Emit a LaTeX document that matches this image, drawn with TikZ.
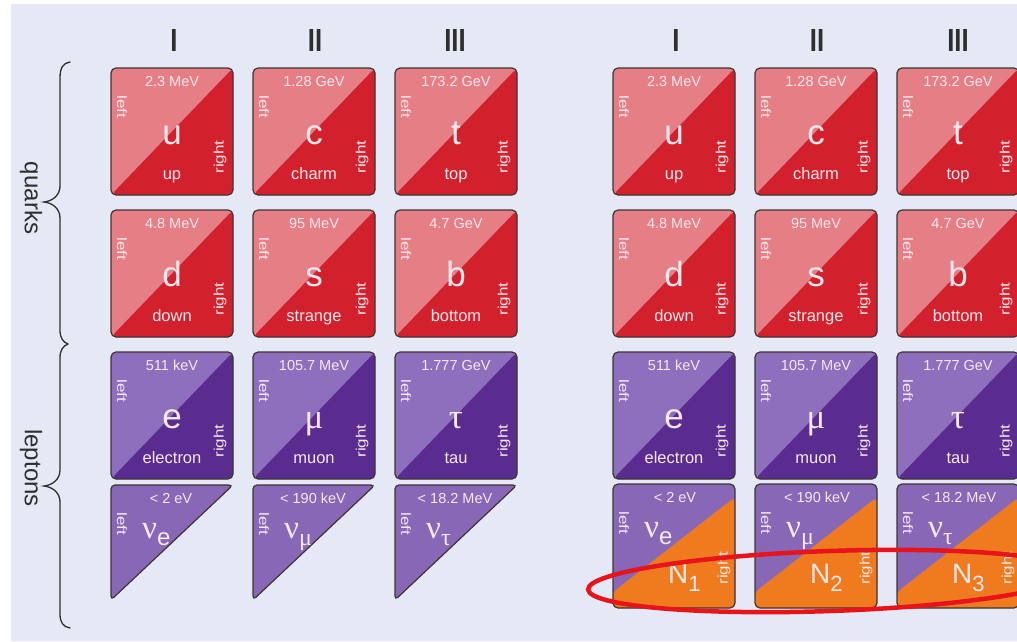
\documentclass[tikz,border=0pt]{standalone}
\usepackage{fontspec}
\setmainfont{Liberation Sans}
\newfontfamily\grkfont{Liberation Serif}
\usetikzlibrary{shapes.geometric}
\definecolor{bgc}{HTML}{E5E9F5}
\definecolor{boxline}{HTML}{3E3434}
\definecolor{qlight}{HTML}{E67E86}
\definecolor{qdark}{HTML}{D3202D}
\definecolor{llight}{HTML}{8E6FBD}
\definecolor{ldark}{HTML}{5B2C8F}
\definecolor{nucol}{HTML}{8767B6}
\definecolor{orng}{HTML}{F07A1E}
\definecolor{txtc}{HTML}{F6E8EC}
\definecolor{ellred}{HTML}{E8141B}
\definecolor{darkt}{HTML}{2E2E2E}
\tikzset{
  pbox/.style={draw=boxline, line width=1.2pt, rounded corners=5pt, minimum width=122pt, minimum height=127pt, inner sep=0pt, outer sep=0pt},
  quark/.style={pbox, fill=qlight, path picture={\fill[qdark] (path picture bounding box.south west) -- (path picture bounding box.north east) -- (path picture bounding box.south east) -- cycle;}},
  lepton/.style={pbox, fill=llight, path picture={\fill[ldark] (path picture bounding box.south west) -- (path picture bounding box.north east) -- (path picture bounding box.south east) -- cycle;}},
  nubox/.style={pbox, minimum height=124pt, fill=nucol, path picture={\fill[orng] ([yshift=-13pt]path picture bounding box.north east) -- (path picture bounding box.south east) -- (path picture bounding box.south west) -- ([yshift=16pt]path picture bounding box.south west) -- cycle;}},
  nutri/.style={draw=boxline, line width=1.2pt, fill=nucol, rounded corners=4pt},
  masst/.style={text=txtc, font=\fontsize{14.5}{14.5}\selectfont, anchor=base, inner sep=0pt},
  symt/.style={text=txtc, font=\fontsize{35}{35}\selectfont, anchor=base, inner sep=0pt},
  namet/.style={text=txtc, font=\fontsize{16.5}{16.5}\selectfont, anchor=base, inner sep=0pt},
  leftt/.style={text=txtc, rotate=-90, inner sep=0pt},
  rightt/.style={text=txtc, rotate=90, inner sep=0pt},
  nut/.style={text=txtc, anchor=base west, inner sep=0pt},
  gen/.style={text=darkt, inner sep=0pt},
  grp/.style={text=darkt, font=\fontsize{24}{24}\selectfont, rotate=-90, inner sep=0pt},
  grpbrace/.style={draw=darkt, line width=1.3pt, line cap=round},
  ring/.style={draw=ellred, line width=4.5pt, ellipse, inner sep=0pt, minimum width=484pt, minimum height=60pt}
}
\newcommand\sidetxt[1]{\scalebox{1}[0.8]{\fontsize{17}{17}\selectfont #1}}
\newcommand\gentxt[1]{\scalebox{0.8}[1]{\fontsize{32}{32}\selectfont\bfseries #1}}
% #1 name, #2 x, #3 y, #4 style, #5 mass, #6 symbol, #7 label
\newcommand\pcell[7]{%
  \node[#4] (#1) at (#2+61,#3+63.5) {};
  \node[masst] (#1m) at (#2+61,#3+18) {#5};
  \node[symt] (#1s) at (#2+61,#3+76) {#6};
  \node[namet] (#1n) at (#2+61,#3+111) {#7};
  \node[leftt] (#1l) at (#2+11,#3+39) {\sidetxt{left}};
  \node[rightt] (#1r) at (#2+109,#3+89) {\sidetxt{right}};
}
\newcommand\nusym[1]{{\fontsize{33}{33}\selectfont\grkfont ν}\raisebox{-7pt}{\fontsize{24}{24}\selectfont #1}}
\newcommand\Nsym[1]{{\fontsize{28}{28}\selectfont N}\raisebox{-8pt}{\fontsize{22}{22}\selectfont #1}}
% neutrino triangle: #1 name, #2 x, #3 y, #4 mass, #5 subscript
\newcommand\nutriangle[5]{%
  \draw[nutri] (#2,#3) -- (#2+122,#3) -- (#2,#3+115) -- cycle;
  \node[masst] (#1m) at (#2+60,#3+18) {#4};
  \node[leftt] (#1l) at (#2+11,#3+39) {\sidetxt{left}};
  \node[nut] (#1s) at (#2+31,#3+53) {\nusym{#5}};
}
% neutrino + heavy box: #1 name, #2 x, #3 y, #4 mass, #5 subscript, #6 N index
\newcommand\nNcell[6]{%
  \node[nubox] (#1) at (#2+61,#3+62) {};
  \node[masst] (#1m) at (#2+62,#3+18) {#4};
  \node[leftt] (#1l) at (#2+11,#3+39) {\sidetxt{left}};
  \node[nut] (#1s) at (#2+31,#3+53) {\nusym{#5}};
  \node[nut] (#1N) at (#2+55,#3+99) {\Nsym{#6}};
  \node[rightt] (#1r) at (#2+111,#3+84) {\sidetxt{right}};
}
\begin{document}
\begin{tikzpicture}[x=1pt,y=-1pt]
\useasboundingbox (0,0) rectangle (1017,641);
\fill[white] (0,0) rectangle (1017,641);
\fill[bgc] (11,4) rectangle (1017,641);

% generation headers
\node[gen] (gl1) at (174,40) {\gentxt{I}};
\node[gen] (gl2) at (315,40) {\gentxt{II}};
\node[gen] (gl3) at (455,40) {\gentxt{III}};
\node[gen] (gr1) at (676,40) {\gentxt{I}};
\node[gen] (gr2) at (817,40) {\gentxt{II}};
\node[gen] (gr3) at (958,40) {\gentxt{III}};

% braces
\draw[grpbrace] (70,62) .. controls (63,63) and (60,68) .. (60,78) -- (60,186) .. controls (60,195) and (53,201) .. (44,202) .. controls (53,203) and (60,209) .. (60,218) -- (60,330) .. controls (60,338) and (63,342) .. (68,344);
\draw[grpbrace] (68,344) .. controls (63,346) and (60,350) .. (60,358) -- (60,470) .. controls (60,479) and (53,485) .. (44,486) .. controls (53,487) and (60,493) .. (60,502) -- (60,614) .. controls (60,622) and (63,627) .. (70,628);
\node[grp] (quarks) at (31,198) {quarks};
\node[grp] (leptons) at (31,468) {leptons};

% left grid
\pcell{uL}{111}{68}{quark}{2.3 MeV}{u}{up}
\pcell{cL}{253}{68}{quark}{1.28 GeV}{c}{charm}
\pcell{tL}{395}{68}{quark}{173.2 GeV}{t}{top}
\pcell{dL}{111}{210}{quark}{4.8 MeV}{d}{down}
\pcell{sL}{253}{210}{quark}{95 MeV}{s}{strange}
\pcell{bL}{395}{210}{quark}{4.7 GeV}{b}{bottom}
\pcell{eL}{111}{352}{lepton}{511 keV}{e}{electron}
\pcell{muL}{253}{352}{lepton}{105.7 MeV}{{\grkfont μ}}{muon}
\pcell{tauL}{395}{352}{lepton}{1.777 GeV}{{\grkfont τ}}{tau}
\nutriangle{nueL}{111}{485}{< 2 eV}{e}
\nutriangle{numuL}{253}{485}{< 190 keV}{{\grkfont μ}}
\nutriangle{nutauL}{395}{485}{< 18.2 MeV}{{\grkfont τ}}

% right grid
\pcell{uR}{613}{68}{quark}{2.3 MeV}{u}{up}
\pcell{cR}{755}{68}{quark}{1.28 GeV}{c}{charm}
\pcell{tR}{897}{68}{quark}{173.2 GeV}{t}{top}
\pcell{dR}{613}{210}{quark}{4.8 MeV}{d}{down}
\pcell{sR}{755}{210}{quark}{95 MeV}{s}{strange}
\pcell{bR}{897}{210}{quark}{4.7 GeV}{b}{bottom}
\pcell{eR}{613}{352}{lepton}{511 keV}{e}{electron}
\pcell{muR}{755}{352}{lepton}{105.7 MeV}{{\grkfont μ}}{muon}
\pcell{tauR}{897}{352}{lepton}{1.777 GeV}{{\grkfont τ}}{tau}
\nNcell{nueR}{613}{484}{< 2 eV}{e}{1}
\nNcell{numuR}{755}{484}{< 190 keV}{{\grkfont μ}}{2}
\nNcell{nutauR}{897}{484}{< 18.2 MeV}{{\grkfont τ}}{3}

% highlight ellipse
\node[ring, rotate=2] (highlight) at (830,581) {};
\end{tikzpicture}
\end{document}
